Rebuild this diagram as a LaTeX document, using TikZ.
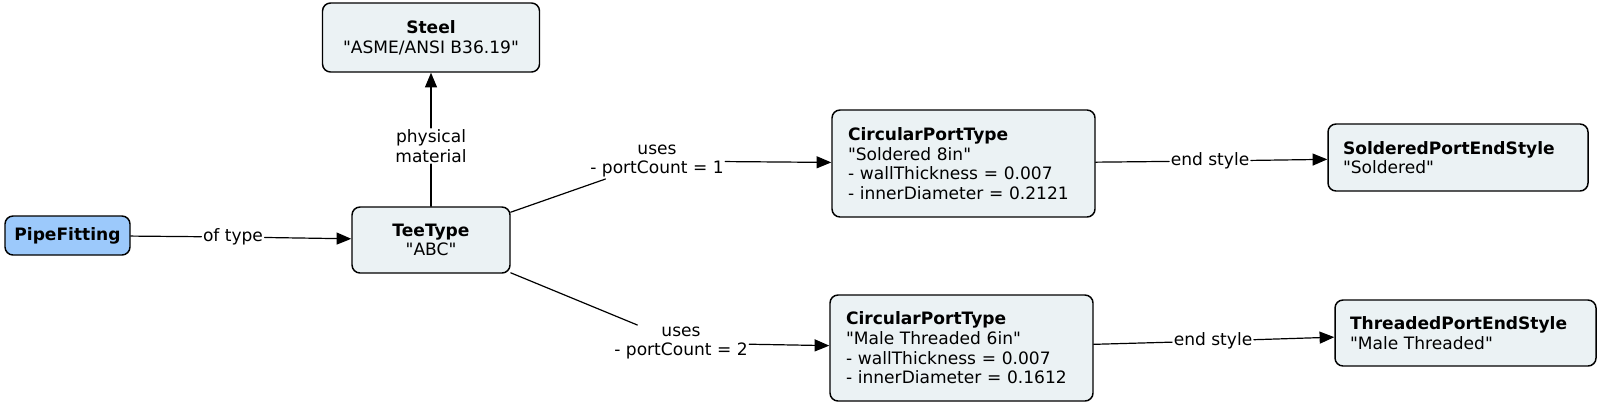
\documentclass[tikz,border=0pt]{standalone}
\usepackage{fontspec}
\setmainfont{DejaVu Sans}[Ligatures=TeXOff]
\usetikzlibrary{arrows.meta}

\definecolor{conceptfill}{HTML}{EBF2F4}
\definecolor{rootfill}{HTML}{9CC9FB}

\begin{document}
\begin{tikzpicture}[>=Stealth, x=0.75pt, y=-0.75pt, line cap=round, line join=round]
		
		% ================= 1. styles =================
		\tikzset{
			concept/.style={draw=black, fill=conceptfill, line width=1.1pt, rounded corners=6pt,
				inner sep=0pt, font=\fontsize{12.8}{14.8}\selectfont},
			centred/.style={concept, align=center},
			listed/.style={concept, align=left, inner xsep=12pt},
			linkname/.style={inner sep=1pt, align=center, font=\fontsize{12.8}{14.8}\selectfont},
			plain/.style={line width=0.9pt},
			link/.style={line width=0.9pt, -{Triangle[length=11pt, width=9pt]}}
		}
		\useasboundingbox (0,0) rectangle (1599,404);
		
		% ================= 2. concepts =================
		\node[centred, fill=rootfill, minimum width=93.75pt, minimum height=29.25pt] (pipefitting) at (67.5,235.5) {\textbf{PipeFitting}};
		\node[centred, minimum width=118.5pt, minimum height=49.5pt] (teetype) at (431,240) {\textbf{TeeType}\\"ABC"};
		\node[centred, minimum width=162.75pt, minimum height=51.75pt] (steel) at (431,37.5) {\textbf{Steel}\\"ASME/ANSI B36.19"};
		
		\node[listed, text width=173.25pt, minimum height=80.25pt] (portA) at (963.5,163.5)
		{\textbf{CircularPortType}\\"Soldered 8in"\\- wallThickness = 0.007\\- innerDiameter = 0.2121};
		\node[listed, text width=173.25pt, minimum height=79.5pt] (portB) at (961.5,348)
		{\textbf{CircularPortType}\\"Male Threaded 6in"\\- wallThickness = 0.007\\- innerDiameter = 0.1612};
		
		\node[listed, inner xsep=11.25pt, text width=172.5pt, minimum height=50.25pt] (soldered) at (1458,157.5)
		{\textbf{SolderedPortEndStyle}\\"Soldered"};
		\node[listed, inner xsep=11.25pt, text width=173.25pt, minimum height=49.5pt] (threaded) at (1465.5,333)
		{\textbf{ThreadedPortEndStyle}\\"Male Threaded"};
		
		% ================= 3. link names =================
		\node[linkname] (oftype) at (233,237) {of type};
		\node[linkname] (physmat) at (431,146) {physical\\material};
		\node[linkname] (usesA) at (657,161) {uses\\- portCount = 1};
		\node[linkname] (usesB) at (681,343) {uses\\- portCount = 2};
		\node[linkname] (endA) at (1210,161) {end style};
		\node[linkname] (endB) at (1213,341) {end style};
		
		% ================= 4. links =================
		\draw[plain] (pipefitting) -- (oftype);
		\draw[link] (oftype) -- (teetype);
		\draw[plain] (teetype) -- (physmat);
		\draw[link] (physmat) -- (steel);
		\draw[plain] (teetype) -- (usesA);
		\draw[link] (usesA) -- (portA);
		\draw[plain] (teetype) -- (usesB);
		\draw[link] (usesB) -- (portB);
		\draw[plain] (portA) -- (endA);
		\draw[link] (endA) -- (soldered);
		\draw[plain] (portB) -- (endB);
		\draw[link] (endB) -- (threaded);
		
	\end{tikzpicture}
\end{document}
